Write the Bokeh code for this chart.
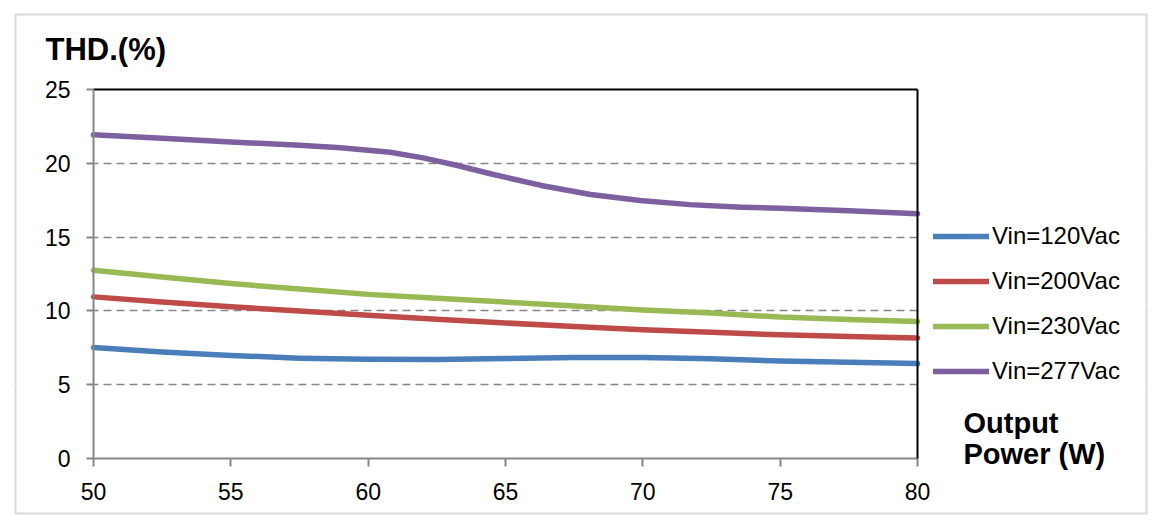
from bokeh.plotting import figure
from bokeh.models import (Legend, LegendItem, LinearAxis, Range1d, Label, BoxAnnotation,
                          FixedTicker)
from bokeh.embed import file_html
from bokeh.resources import INLINE

# ---- data ----
power = [50, 52.5, 55, 57.5, 60, 62.5, 65, 67.5, 70, 72.5, 75, 77.5, 80]
thd_120 = [7.52, 7.22, 6.98, 6.80, 6.72, 6.70, 6.77, 6.84, 6.84, 6.75, 6.60, 6.52, 6.43]
thd_200 = [10.95, 10.60, 10.28, 10.00, 9.70, 9.43, 9.18, 8.95, 8.72, 8.55, 8.38, 8.27, 8.17]
thd_230 = [12.76, 12.30, 11.85, 11.48, 11.12, 10.85, 10.60, 10.33, 10.06, 9.85, 9.58, 9.42, 9.28]
power_277 = [50, 52.5, 55, 57.5, 59, 60.8, 62, 63.25, 64.45, 66.3, 68.1, 69.9, 71.7, 73.6,
             75, 77.5, 80]
thd_277 = [21.93, 21.70, 21.45, 21.22, 21.05, 20.75, 20.37, 19.85, 19.29, 18.50, 17.89, 17.48,
           17.20, 17.03, 16.95, 16.78, 16.59]
series_names = ["Vin=120Vac", "Vin=200Vac", "Vin=230Vac", "Vin=277Vac"]
series_colors = ["#4A7EBB", "#BE4B48", "#98B954", "#7D60A0"]
x_ticks = [50, 55, 60, 65, 70, 75, 80]
y_ticks = [0, 5, 10, 15, 20, 25]
grid_ticks = [5, 10, 15, 20]
y_title = "THD.(%)"
x_title = ["Output", "Power (W)"]

# ---- layout constants (canvas pixels) ----
W, H = 1160, 528
AX_L, AX_R, AX_T, AX_B = 93, 917, 89, 458      # the axes box of the chart
FR_L, FR_R, FR_T, FR_B = 12, 1150, 12, 516      # plot frame (covers whole chart)
X0, X1 = x_ticks[0], x_ticks[-1]
Y0, Y1 = y_ticks[0], y_ticks[-1]
kx = (X1 - X0) / (AX_R - AX_L)
ky = (Y1 - Y0) / (AX_B - AX_T)
x_range = Range1d(X0 - (AX_L - FR_L) * kx, X1 + (FR_R - AX_R) * kx)
y_range = Range1d(Y0 - (FR_B - AX_B) * ky, Y1 + (AX_T - FR_T) * ky)

FONT = "Liberation Sans"
AXIS_GRAY = "#868686"

p = figure(width=W, height=H, output_backend="svg", toolbar_location=None, title=None,
           x_range=x_range, y_range=y_range,
           min_border_left=FR_L, min_border_right=W - FR_R,
           min_border_top=FR_T, min_border_bottom=H - FR_B,
           background_fill_color="white", border_fill_color="white")
p.outline_line_color = None

# axes at fixed data locations (0 and 50)
xa, ya = p.xaxis[0], p.yaxis[0]
for ax in (xa, ya):
    ax.axis_line_color = AXIS_GRAY
    ax.axis_line_width = 2
    ax.major_tick_line_color = AXIS_GRAY
    ax.major_tick_line_width = 2
    ax.minor_tick_line_color = None
    ax.major_tick_in = 0
    ax.major_label_text_font = FONT
    ax.major_label_text_font_size = "23px"
    ax.major_label_text_color = "black"
xa.ticker = FixedTicker(ticks=x_ticks)
xa.bounds = (X0, X1)
xa.fixed_location = Y0
xa.major_tick_out = 8
xa.major_label_standoff = 16
ya.ticker = FixedTicker(ticks=y_ticks)
ya.bounds = (Y0, Y1)
ya.fixed_location = X0
ya.major_tick_out = 7
ya.major_label_standoff = 16

# top and right sides of the axes box, in black
top_ax = LinearAxis(ticker=FixedTicker(ticks=[]), bounds=(X0, X1), fixed_location=Y1,
                    axis_line_color="black", axis_line_width=2,
                    major_tick_line_color=None, minor_tick_line_color=None,
                    major_label_text_font_size="0px")
right_ax = LinearAxis(ticker=FixedTicker(ticks=[]), bounds=(Y0, Y1), fixed_location=X1,
                      axis_line_color="black", axis_line_width=2,
                      major_tick_line_color=None, minor_tick_line_color=None,
                      major_label_text_font_size="0px")
p.add_layout(top_ax, "above")
p.add_layout(right_ax, "right")

# dashed horizontal grid, limited to the axes box by white masks
p.xgrid.grid_line_color = None
p.ygrid[0].ticker = FixedTicker(ticks=grid_ticks)
p.ygrid.grid_line_color = AXIS_GRAY
p.ygrid.grid_line_width = 1.6
p.ygrid.grid_line_dash = "8 5"
p.add_layout(BoxAnnotation(right=X0, level="underlay", fill_color="white", fill_alpha=1,
                           line_color=None))
p.add_layout(BoxAnnotation(left=X1, level="underlay", fill_color="white", fill_alpha=1,
                           line_color=None))

renderers = []
for xs, ys, c in zip([power, power, power, power_277],
                     [thd_120, thd_200, thd_230, thd_277], series_colors):
    r = p.line(xs, ys, line_color=c, line_width=5.5, line_cap="round", line_join="round")
    renderers.append(r)

legend = Legend(items=[LegendItem(label=n, renderers=[r]) for n, r in zip(series_names, renderers)],
                location=(933 - FR_L, FR_B - 385), orientation="vertical",
                label_text_font=FONT, label_text_font_size="24px", label_text_color="black",
                glyph_width=56, glyph_height=26, label_height=26, label_standoff=3,
                spacing=17, padding=0, margin=0,
                border_line_color=None, background_fill_alpha=0)
p.add_layout(legend, "center")

# axis titles
p.add_layout(Label(x=45, y=49, x_units="canvas", y_units="canvas", text=y_title,
                   text_font=FONT, text_font_style="bold", text_font_size="31px",
                   text_color="black", text_baseline="alphabetic"))
p.add_layout(Label(x=963, y=422, x_units="canvas", y_units="canvas", text=x_title[0],
                   text_font=FONT, text_font_style="bold", text_font_size="29px",
                   text_color="black", text_baseline="alphabetic"))
p.add_layout(Label(x=963, y=453, x_units="canvas", y_units="canvas", text=x_title[1],
                   text_font=FONT, text_font_style="bold", text_font_size="29px",
                   text_color="black", text_baseline="alphabetic"))

# outer chart border
p.add_layout(BoxAnnotation(left=15, right=1146, top=14, bottom=513,
                           left_units="canvas", right_units="canvas",
                           top_units="canvas", bottom_units="canvas",
                           fill_alpha=0, line_color="#7F7F7F", line_width=2))

open("out.html", "w").write(file_html(p, INLINE))
